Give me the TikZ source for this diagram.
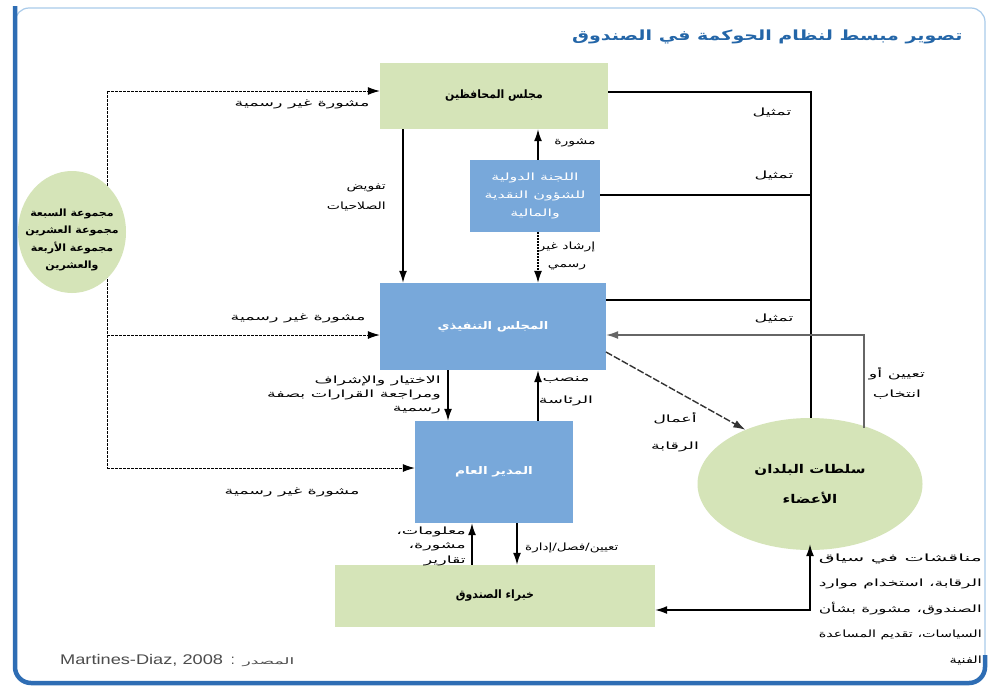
\documentclass[tikz,border=0pt]{standalone}
\usepackage{graphicx}
\usepackage{fontspec}
\usetikzlibrary{arrows.meta,shapes.geometric}
\setmainfont{Liberation Sans}
\newfontfamily\arfont[Script=Arabic]{DejaVu Sans}
\TeXXeTstate=1
\newcommand{\AR}[2][1.75]{\scalebox{#1}[1]{\arfont\beginR #2\endR}}
\newcommand{\ARW}[2]{\resizebox{#1}{\height}{\arfont #2}}
\definecolor{gfill}{HTML}{D5E4B8}
\definecolor{bfill}{HTML}{78A8DA}
\definecolor{frameblue}{HTML}{2E6DB4}
\definecolor{framelight}{HTML}{A9CBEA}
\definecolor{titleblue}{HTML}{2466A8}
\begin{document}
\begin{tikzpicture}[x=1pt,y=-1pt,
  gbox/.style={fill=gfill,draw=none,inner sep=2pt,font=\arfont\bfseries\fontsize{11.5}{13}\selectfont},
  bbox/.style={fill=bfill,draw=none,text=white,inner sep=2pt,align=center,font=\arfont\bfseries\fontsize{10.5}{13}\selectfont},
  gell/.style={ellipse,fill=gfill,draw=none,inner sep=0pt},
  arr/.style={-{Latex[length=12pt,width=8pt]},line width=1.4pt},
  arrh/.style={-{Latex[length=12pt,width=8pt]}},
  infl/.style={dash pattern=on 2.5pt off 1.5pt,line width=1pt},
  lbl/.style={font=\arfont\fontsize{10}{13}\selectfont,inner sep=1pt},
  repl/.style={line width=2pt,black},
]
\useasboundingbox (0,0) rectangle (995,691);
\fill[white] (0,0) rectangle (995,691);
% frame
\draw[framelight,line width=1.2pt,rounded corners=14pt] (15,8) rectangle (985,683);
\draw[frameblue,line width=4.5pt,rounded corners=16pt] (15,6) -- (15,683) -- (985,683) -- (985,655);

% title
\node[anchor=east,text=titleblue,font=\arfont\bfseries\fontsize{14}{16}\selectfont] (title) at (966,37) {\AR[1.36]{تصوير مبسط لنظام الحوكمة في الصندوق}};

% informal-advice spine (drawn before the ellipse so the ellipse covers it)
\coordinate (ctop) at (107,91);
\coordinate (cmid) at (107,335);
\coordinate (cbot) at (107,468);
\draw[infl] (ctop) -- (cbot);

% nodes
\node[gbox,minimum width=228pt,minimum height=66pt] (gov) at (494,96) {\AR[0.95]{مجلس المحافظين}};
\node[bbox,minimum width=130pt,minimum height=72pt,font=\arfont\fontsize{10}{18}\selectfont] (imfc) at (535,196) {\AR[1.6]{اللجنة الدولية}\\\AR[1.6]{للشؤون النقدية}\\\AR[1.6]{والمالية}};
\node[bbox,minimum width=226pt,minimum height=87pt] (exec) at (493,326.5) {\AR[1.25]{المجلس التنفيذي}};
\node[bbox,minimum width=158pt,minimum height=102pt] (md) at (494,472) {\AR[1.3]{المدير العام}};
\node[gbox,minimum width=320pt,minimum height=62pt] (staff) at (495,596) {\AR[0.95]{خبراء الصندوق}};
\node[gell,minimum width=108pt,minimum height=122pt] (grp) at (72,232) {};
\node[align=center,inner sep=0pt,font=\arfont\bfseries\fontsize{10}{17.5}\selectfont] (grptxt) at ([yshift=-8pt]grp.center) {\AR[1.1]{مجموعة السبعة}\\\AR[1.1]{مجموعة العشرين}\\\AR[1.1]{مجموعة الأربعة}\\\AR[1.1]{والعشرين}};
\node[gell,minimum width=225pt,minimum height=132pt] (mem) at (810,484) {};
\node[align=center,inner sep=0pt,font=\arfont\bfseries\fontsize{12}{30}\selectfont] (memtxt) at (mem.center) {\AR[1.25]{سلطات البلدان}\\\AR[1.25]{الأعضاء}};

% informal advice arrows
\draw[infl,arrh] (ctop) -- (ctop -| gov.west);
\draw[infl,arrh] (cmid) -- (cmid -| exec.west);
\draw[infl,arrh] (cbot) -- (cbot -| md.west);
\node[lbl] (l1) at (302,104) {\AR{مشورة غير رسمية}};
\node[lbl] (l2) at (298,318) {\AR{مشورة غير رسمية}};
\node[lbl] (l3) at (292,492) {\AR{مشورة غير رسمية}};

% representation lines
\coordinate (rtop) at (811,92);
\draw[repl] (gov.east |- rtop) -- (rtop) -- (mem.north -| rtop);
\coordinate (rimfc) at (811,195);
\draw[repl] (imfc.east |- rimfc) -- (rimfc);
\coordinate (rexec) at (811,300);
\draw[repl] (exec.east |- rexec) -- (rexec);
\node[lbl] (t1) at (772,112) {\AR{تمثيل}};
\node[lbl] (t2) at (774,175) {\AR{تمثيل}};
\node[lbl] (t3) at (774,318) {\AR{تمثيل}};

% appointment or election
\coordinate (ae1) at (864,428);
\coordinate (ae2) at (864,335);
\draw[line width=1.3pt,black!60,arrh] (ae1) -- (ae2) -- (ae2 -| exec.east);
\node[lbl,align=center,font=\arfont\fontsize{10}{20}\selectfont] (tae) at (897,383) {\AR{تعيين أو}\\\AR{انتخاب}};

% governors -> exec
\draw[arr] (gov.south -| 403,0) -- (exec.north -| 403,0);
\node[lbl,anchor=east,align=right,font=\arfont\fontsize{10}{20}\selectfont] (tdel) at (387,197) {\AR[1.4]{تفويض}\\\AR[1.4]{الصلاحيات}};
% imfc -> gov
\draw[arr] (imfc.north -| 538,0) -- (gov.south -| 538,0);
\node[lbl] (tadv) at (575,143) {\AR[1.4]{مشورة}};
% imfc -> exec (dotted)
\draw[dash pattern=on 1.5pt off 1.5pt,line width=1.2pt,arrh] (imfc.south -| 538,0) -- (exec.north -| 538,0);
\node[lbl,align=center,font=\arfont\fontsize{10}{18}\selectfont] (tguid) at (567,256) {\AR[1.4]{إرشاد غير}\\\AR[1.4]{رسمي}};

% exec -> member authorities (surveillance)
\coordinate (sv) at (606,352);
\draw[line width=1.4pt,black!80,dash pattern=on 7pt off 2pt,arrh] (sv) -- (mem.140);
\node[lbl,align=center,font=\arfont\fontsize{10}{27}\selectfont] (tsv) at (675,432) {\AR{أعمال}\\\AR{الرقابة}};

% exec <-> md
\draw[arr] (exec.south -| 448,0) -- (md.north -| 448,0);
\node[lbl,anchor=east,align=right,font=\arfont\fontsize{10}{14}\selectfont] (tsel) at (442,395) {\AR{الاختيار والإشراف}\\\AR{ومراجعة القرارات بصفة}\\\AR{رسمية}};
\draw[arr] (md.north -| 538,0) -- (exec.south -| 538,0);
\node[lbl,align=center,font=\arfont\fontsize{10}{22}\selectfont] (tchair) at (566,391) {\AR{منصب}\\\AR{الرئاسة}};

% md <-> staff
\draw[arr] (staff.north -| 472,0) -- (md.south -| 472,0);
\node[lbl,anchor=east,align=right,font=\arfont\fontsize{10}{14.5}\selectfont] (tinfo) at (467,546) {\AR{معلومات،}\\\AR{مشورة،}\\\AR{تقارير}};
\draw[arr] (md.south -| 517,0) -- (staff.north -| 517,0);
\node[lbl,anchor=west] (tapp) at (524,548) {\AR[1.35]{تعيين/فصل/إدارة}};

% staff <-> member authorities
\coordinate (sm) at (810,610);
\draw[line width=1.3pt,{Latex[length=12pt,width=8pt]}-{Latex[length=12pt,width=8pt]}] (staff.east |- sm) -- (sm) -- ([yshift=6pt]mem.south);
\node[lbl,anchor=east,align=right,font=\arfont\fontsize{10}{25.5}\selectfont] (tdisc) at (983,609) {\ARW{163pt}{\beginR مناقشات في سياق\endR}\\\ARW{163pt}{\beginR الرقابة، استخدام موارد\endR}\\\ARW{163pt}{\beginR الصندوق، مشورة بشأن\endR}\\\ARW{163pt}{\beginR السياسات، تقديم المساعدة\endR}\\\AR[1.45]{الفنية}};

% source
\node[anchor=west,text=black!70,font=\fontsize{14}{16}\selectfont,inner sep=0pt] (src) at (60,661) {\scalebox{1.3}[1]{Martines-Diaz, 2008}\ \ :\ \ {\fontsize{9}{10}\selectfont\AR[1.9]{المصدر}}};
\end{tikzpicture}
\end{document}
